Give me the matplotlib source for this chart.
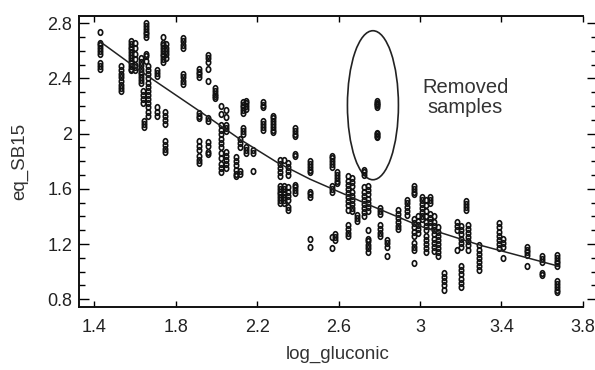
import matplotlib
matplotlib.use("Agg")
import matplotlib.pyplot as plt
from matplotlib.patches import Ellipse
from matplotlib.path import Path
from matplotlib.transforms import Affine2D
from matplotlib.ticker import MultipleLocator

plt.rcParams['font.family'] = ['Liberation Sans', 'DejaVu Sans']

# replicate columns: log_gluconic value and the eq_SB15 values read at it
col_x = [1.43, 1.53, 1.58, 1.60, 1.63, 1.655, 1.665, 1.64, 1.645, 1.71,
         1.735, 1.75, 1.748, 1.837, 1.915, 1.96, 1.993, 2.02, 2.045, 2.095,
         2.116, 2.13, 2.145, 2.18, 2.227, 2.277, 2.31, 2.33, 2.35, 2.386,
         2.46, 2.567, 2.583, 2.594, 2.645, 2.665, 2.69, 2.725, 2.745, 2.79,
         2.804, 2.837, 2.894, 2.935, 2.97, 2.99, 3.01, 3.03, 3.05, 3.07,
         3.09, 3.12, 3.18, 3.20, 3.226, 3.238, 3.292, 3.39, 3.41, 3.525,
         3.60, 3.672]
col_y = [
    [2.74, 2.66, 2.64, 2.62, 2.60, 2.58, 2.51, 2.49, 2.47],
    [2.49, 2.46, 2.43, 2.41, 2.38, 2.35, 2.33, 2.31],
    [2.67, 2.65, 2.63, 2.61, 2.59, 2.57, 2.55, 2.53, 2.51, 2.49, 2.47, 2.46],
    [2.66, 2.62, 2.58, 2.54, 2.50, 2.48, 2.46],
    [2.55, 2.52, 2.50, 2.47, 2.45, 2.43, 2.41, 2.39, 2.37],
    [2.80, 2.78, 2.76, 2.74, 2.72, 2.70, 2.58, 2.56, 2.53],
    [2.49, 2.46, 2.43, 2.40, 2.37, 2.34, 2.31, 2.28, 2.25, 2.22, 2.19, 2.16, 2.13],
    [2.31, 2.28, 2.25, 2.22],
    [2.09, 2.07, 2.05],
    [2.46, 2.44, 2.42, 2.19, 2.16, 2.13],
    [2.70, 2.66, 2.64, 2.62, 2.60, 2.58, 2.56, 2.54, 2.52],
    [2.65, 2.62, 2.60, 2.58, 2.55],
    [2.16, 2.13, 2.10, 2.07, 1.95, 1.92, 1.89, 1.87],
    [2.69, 2.67, 2.64, 2.62, 2.43, 2.41, 2.38, 2.36],
    [2.47, 2.45, 2.43, 2.41, 2.15, 2.13, 2.11, 1.95, 1.91, 1.88, 1.84, 1.81, 1.79],
    [2.57, 2.545, 2.52, 2.47, 2.38, 2.11, 2.09, 1.94, 1.91, 1.87, 1.85],
    [2.33, 2.31, 2.29, 2.27, 2.26],
    [2.20, 2.14, 2.06, 2.03, 2.00, 1.96, 1.93, 1.90, 1.86, 1.82, 1.78, 1.75, 1.72],
    [2.17, 2.12, 2.06, 2.04, 2.02, 1.87, 1.84, 1.81, 1.78, 1.75],
    [1.83, 1.80, 1.77, 1.74, 1.71, 1.69],
    [1.96, 1.93, 1.90, 1.73, 1.71],
    [2.23, 2.21, 2.19, 2.17, 2.15, 2.04, 2.02, 2.00],
    [2.24, 2.22, 2.20, 2.18, 1.905, 1.88, 1.86],
    [1.88, 1.86, 1.73],
    [2.23, 2.21, 2.19, 2.09, 2.07, 2.05, 2.03],
    [2.13, 2.11, 2.09, 2.07, 2.05, 2.03, 2.01],
    [1.81, 1.78, 1.75, 1.72, 1.69, 1.62, 1.60, 1.58, 1.56, 1.54, 1.52, 1.50],
    [1.81, 1.62, 1.60, 1.58, 1.56, 1.54, 1.52, 1.50],
    [1.79, 1.76, 1.73, 1.70, 1.61, 1.58, 1.55, 1.52, 1.47, 1.45],
    [2.04, 2.02, 2.00, 1.98, 1.85, 1.84, 1.63, 1.61, 1.59, 1.57],
    [1.80, 1.78, 1.76, 1.74, 1.72, 1.58, 1.56, 1.54, 1.235, 1.18],
    [1.84, 1.82, 1.80, 1.78, 1.76, 1.62, 1.60, 1.58, 1.25, 1.17],
    [1.27, 1.25, 1.23],
    [1.72, 1.70, 1.68, 1.66, 1.64],
    [1.69, 1.66, 1.63, 1.60, 1.57, 1.54, 1.51, 1.48, 1.45, 1.34, 1.31, 1.28, 1.26],
    [1.68, 1.65, 1.62, 1.58, 1.55, 1.52, 1.49, 1.46, 1.44],
    [1.41, 1.39, 1.37],
    [1.74, 1.72, 1.70, 1.61, 1.58, 1.55, 1.52, 1.49, 1.46, 1.43, 1.40],
    [1.62, 1.59, 1.56, 1.53, 1.50, 1.47, 1.44, 1.30, 1.24, 1.22, 1.19, 1.17, 1.145],
    [2.235, 2.225, 2.215, 2.205, 2.195, 2.005, 1.995, 1.985, 1.975],
    [1.46, 1.44, 1.42, 1.34, 1.31, 1.28, 1.26],
    [1.23, 1.21, 1.18, 1.11],
    [1.45, 1.42, 1.39, 1.36, 1.33, 1.31],
    [1.52, 1.50, 1.47, 1.44, 1.41],
    [1.62, 1.60, 1.58, 1.56, 1.38, 1.35, 1.32, 1.29, 1.26, 1.21, 1.18, 1.16, 1.06],
    [1.40, 1.37, 1.34, 1.31, 1.28],
    [1.54, 1.52, 1.49, 1.46, 1.43, 1.40, 1.38],
    [1.52, 1.48, 1.44, 1.40, 1.36, 1.33, 1.30, 1.26, 1.23, 1.20, 1.17, 1.145],
    [1.54, 1.52, 1.50, 1.42, 1.39, 1.36, 1.33],
    [1.40, 1.36, 1.33, 1.30, 1.27, 1.24, 1.21, 1.18, 1.15],
    [1.32, 1.29, 1.26, 1.23, 1.20, 1.17, 1.14, 1.11],
    [0.99, 0.96, 0.93, 0.90, 0.87],
    [1.36, 1.33, 1.30, 1.16],
    [1.33, 1.30, 1.27, 1.24, 1.21, 1.18, 1.04, 1.01, 0.98, 0.95, 0.92, 0.89],
    [1.51, 1.49, 1.47, 1.45],
    [1.34, 1.31, 1.28, 1.25, 1.22, 1.19, 1.16],
    [1.19, 1.16, 1.13, 1.10, 1.07, 1.04, 1.01],
    [1.35, 1.32, 1.29, 1.26, 1.23, 1.20, 1.17],
    [1.24, 1.21, 1.18, 1.10],
    [1.18, 1.16, 1.14, 1.12, 1.04],
    [1.11, 1.09, 1.07, 0.99, 0.975],
    [1.12, 1.10, 1.08, 1.06, 1.04, 0.93, 0.91, 0.89, 0.87, 0.855],
]

# fitted curve
fit_x = [1.43, 1.63, 1.92, 2.12, 2.30, 2.46, 2.74, 3.00, 3.30, 3.68]
fit_y = [2.665, 2.45, 2.16, 1.955, 1.79, 1.67, 1.49, 1.33, 1.19, 1.04]

xs, ys = [], []
for x, col in zip(col_x, col_y):
    xs += [x] * len(col)
    ys += col

# small upright oval marker
oval = Path.unit_circle().transformed(Affine2D().scale(0.78, 1.0))

fig = plt.figure(figsize=(5.95, 3.7), dpi=100)
ax = fig.add_axes([0.1333, 0.1711, 0.870, 0.7865])

ax.plot(xs, ys, linestyle='none', marker=oval, markersize=4.0,
        markerfacecolor='none', markeredgecolor='#111111', markeredgewidth=1.2)
ax.plot(fit_x, fit_y, color='#222222', lw=1.1)

ax.add_patch(Ellipse((2.769, 2.206), 0.2506, 1.08, fill=False,
                     edgecolor='#222222', lw=1.2))
ax.text(3.222, 2.262, 'Removed\nsamples', ha='center', va='center',
        fontsize=14.5, color='#333333', linespacing=1.1)

ax.set_xlim(1.326, 3.870)
ax.set_ylim(0.746, 2.855)
ax.yaxis.set_minor_locator(MultipleLocator(0.1))
ax.set_xticks([1.4, 1.8, 2.2, 2.6, 3.0, 3.4, 3.8])
ax.set_xticklabels(['1.4', '1.8', '2.2', '2.6', '3', '3.4', '3.8'])
ax.set_yticks([0.8, 1.2, 1.6, 2.0, 2.4, 2.8])
ax.set_yticklabels(['0.8', '1.2', '1.6', '2', '2.4', '2.8'])

ax.tick_params(axis='x', which='major', direction='in', length=4, width=1,
               top=True, pad=9, labelsize=13, labelcolor='#222222')
ax.tick_params(axis='y', which='major', direction='in', length=7, width=1,
               right=True, pad=5, labelsize=13, labelcolor='#222222')
ax.tick_params(axis='y', which='minor', direction='in', length=4, width=1,
               right=True)

for s in ['left', 'bottom', 'top']:
    ax.spines[s].set_linewidth(1.4)
    ax.spines[s].set_color('#111111')
ax.spines['top'].set_bounds(1.326, 3.8)
ax.spines['bottom'].set_bounds(1.326, 3.8)
ax.spines['right'].set_visible(False)

ax.set_xlabel('log_gluconic', fontsize=13.5, color='#333333', labelpad=7)
ax.set_ylabel('eq_SB15', fontsize=13.5, color='#333333', labelpad=14)

fig.savefig('out.png', dpi=100)
